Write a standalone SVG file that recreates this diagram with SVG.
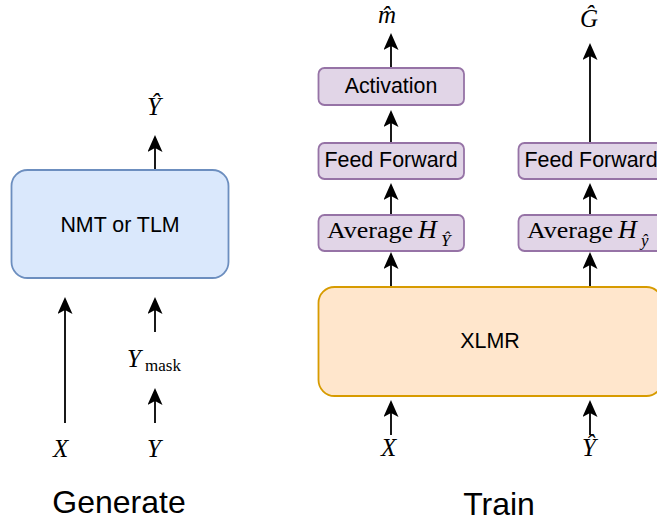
<svg xmlns="http://www.w3.org/2000/svg" width="657" height="522" viewBox="0 0 657 522">
<style>
.blue{fill:#dae8fc;stroke:#6c8ebf;stroke-width:1.8}
.purple{fill:#e1d5e7;stroke:#9673a6;stroke-width:1.8}
.orange{fill:#ffe6cc;stroke:#d79b00;stroke-width:1.8}
.lbl{font-family:"Liberation Sans",Arial,sans-serif;font-size:21.4px;fill:#000;text-anchor:middle}
.big{font-family:"Liberation Sans",Arial,sans-serif;font-size:32px;fill:#000;text-anchor:middle}
.m{font-family:"Liberation Serif","Times New Roman",serif;font-style:italic;font-size:25px;fill:#000}
.mr{font-family:"Liberation Serif","Times New Roman",serif;font-size:23px;fill:#000}
.sub{font-family:"Liberation Serif","Times New Roman",serif;font-size:17px;fill:#000}
.edge{stroke:#000;stroke-width:1.8;fill:none;marker-end:url(#arr)}
</style>
<defs>
<marker id="arr" markerUnits="userSpaceOnUse" viewBox="0 0 17 15" markerWidth="17" markerHeight="15" refX="4" refY="7.5" orient="auto">
<path d="M0,0 L17,7.5 L0,15 L4,7.5 z" fill="#000"/>
</marker>
</defs>
<g id="connectors">
<line class="edge" x1="155" y1="170" x2="155" y2="148"/>
<line class="edge" x1="65" y1="423" x2="65" y2="310"/>
<line class="edge" x1="155" y1="332" x2="155" y2="310"/>
<line class="edge" x1="155" y1="423" x2="155" y2="401"/>
<line class="edge" x1="391" y1="68" x2="391" y2="46"/>
<line class="edge" x1="391" y1="143" x2="391" y2="123"/>
<line class="edge" x1="391" y1="215" x2="391" y2="196"/>
<line class="edge" x1="391" y1="287" x2="391" y2="265"/>
<line class="edge" x1="590" y1="143" x2="590" y2="56"/>
<line class="edge" x1="590" y1="215" x2="590" y2="196"/>
<line class="edge" x1="590" y1="287" x2="590" y2="265"/>
<line class="edge" x1="391" y1="435" x2="391" y2="413"/>
<line class="edge" x1="590" y1="435" x2="590" y2="413"/>
</g>
<g id="nmt">
<rect class="blue" x="11.5" y="170" width="217" height="108" rx="16"/>
<text class="lbl" x="120" y="232">NMT or TLM</text>
</g>
<g id="activation">
<rect class="purple" x="318.5" y="68" width="145.5" height="37" rx="6"/>
<text class="lbl" x="391" y="93">Activation</text>
</g>
<g id="ff-left">
<rect class="purple" x="318.5" y="143" width="145.5" height="36" rx="6"/>
<text class="lbl" x="391" y="167">Feed Forward</text>
</g>
<g id="avg-left">
<rect class="purple" x="318.5" y="215" width="145.5" height="36" rx="6"/>
<text class="mr" x="327" y="238" textLength="86" lengthAdjust="spacingAndGlyphs">Average</text>
<text class="m" x="418" y="238" style="font-size:26px">H</text>
<text class="m" x="441" y="246" style="font-size:17px">Ŷ</text>
</g>
<g id="ff-right">
<rect class="purple" x="518.5" y="143" width="145.5" height="36" rx="6"/>
<text class="lbl" x="591" y="167">Feed Forward</text>
</g>
<g id="avg-right">
<rect class="purple" x="518.5" y="215" width="145.5" height="36" rx="6"/>
<text class="mr" x="527" y="238" textLength="86" lengthAdjust="spacingAndGlyphs">Average</text>
<text class="m" x="618" y="238" style="font-size:26px">H</text>
<text class="m" x="641" y="246" style="font-size:17px">ŷ</text>
</g>
<g id="xlmr">
<rect class="orange" x="318.5" y="287" width="344" height="109" rx="16"/>
<text class="lbl" x="490" y="348">XLMR</text>
</g>
<g id="labels">
<text class="m" x="147" y="115">Ŷ</text>
<text class="m" x="53" y="457">X</text>
<text class="m" x="147" y="457">Y</text>
<text class="m" x="127" y="367">Y</text>
<text class="sub" x="145" y="371">mask</text>
<text class="m" x="378" y="23">m̂</text>
<text class="m" x="580" y="27">Ĝ</text>
<text class="m" x="381" y="456">X</text>
<text class="m" x="582" y="456">Ŷ</text>
<text class="big" x="119" y="513">Generate</text>
<text class="big" x="499" y="515">Train</text>
</g>
</svg>
